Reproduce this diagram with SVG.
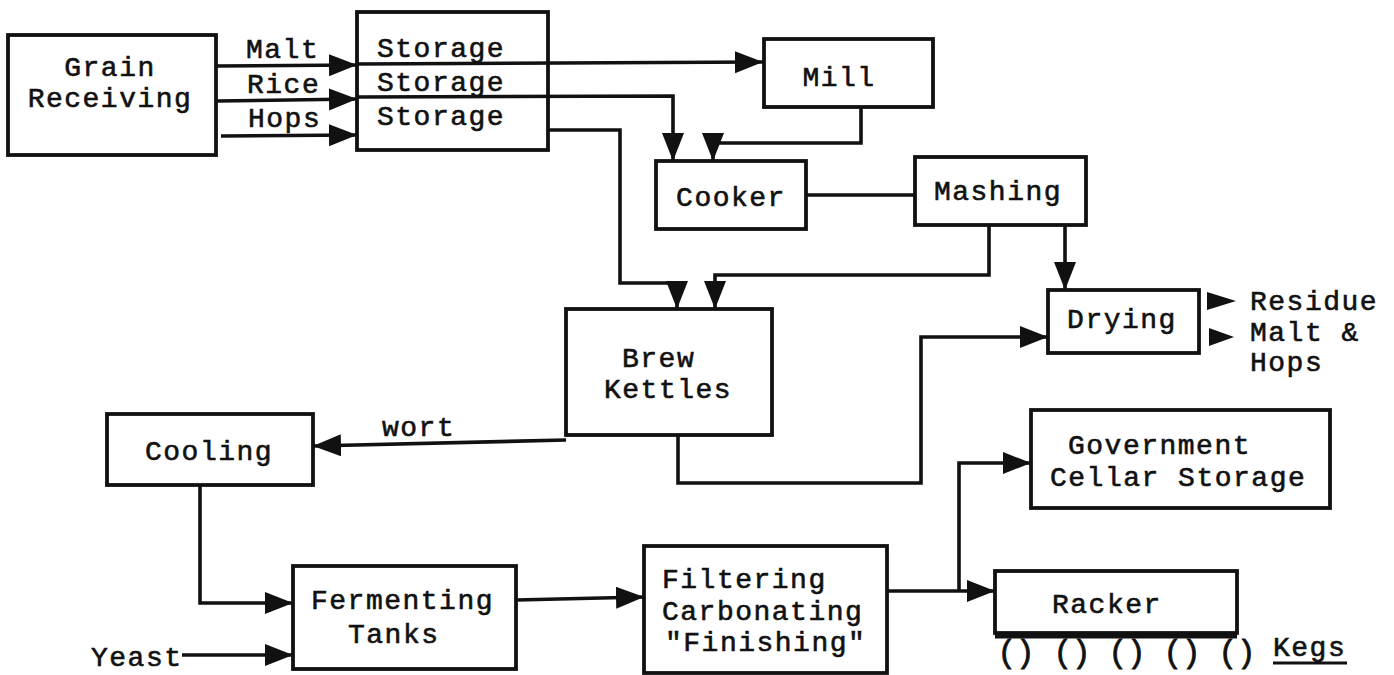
<svg xmlns="http://www.w3.org/2000/svg" width="1394" height="675" viewBox="0 0 1394 675">
<defs>
<style>
.box{fill:none;stroke:#111;stroke-width:3.8}
.ln{fill:none;stroke:#111;stroke-width:3.6;stroke-linejoin:miter}
.t{font-family:"Liberation Mono","DejaVu Sans Mono",monospace;font-size:28px;letter-spacing:1.5px;fill:#111;stroke:#111;stroke-width:0.6}
.m{text-anchor:middle}
.p{font-family:"Liberation Mono","DejaVu Sans Mono",monospace;font-size:31px;fill:#111;stroke:#111;stroke-width:0.8;text-anchor:middle}
</style>
<marker id="ah" markerUnits="userSpaceOnUse" markerWidth="30" markerHeight="24" refX="28" refY="11" orient="auto">
<path d="M0,0 L28,11 L0,22 Z" fill="#111"/>
</marker>
</defs>
<rect width="1394" height="675" fill="#fff"/>

<g id="connectors">
<path class="ln" d="M216,66 L357,65" marker-end="url(#ah)"/>
<path class="ln" d="M357,64 L763,62" marker-end="url(#ah)"/>
<path class="ln" d="M216,101 L357,99" marker-end="url(#ah)"/>
<path class="ln" d="M357,97 L673,96 L673,161" marker-end="url(#ah)"/>
<path class="ln" d="M221,136 L357,135" marker-end="url(#ah)"/>
<path class="ln" d="M548,130 L620,130 L620,283 L677,283 L677,309" marker-end="url(#ah)"/>
<path class="ln" d="M861,107 L861,143 L713,143 L713,161" marker-end="url(#ah)"/>
<path class="ln" d="M806,195 L915,195"/>
<path class="ln" d="M989,225 L989,275 L715,275 L715,309" marker-end="url(#ah)"/>
<path class="ln" d="M1065,225 L1065,290" marker-end="url(#ah)"/>
<path class="ln" d="M678,435 L678,483 L921,483 L921,337 L1048,337" marker-end="url(#ah)"/>
<path class="ln" d="M566,440 L313,446" marker-end="url(#ah)"/>
<path class="ln" d="M200,485 L200,603 L293,603" marker-end="url(#ah)"/>
<path class="ln" d="M182,655 L293,655" marker-end="url(#ah)"/>
<path class="ln" d="M516,600 L644,597" marker-end="url(#ah)"/>
<path class="ln" d="M887,591 L995,591" marker-end="url(#ah)"/>
<path class="ln" d="M959,591 L959,463 L1031,463" marker-end="url(#ah)"/>
<polygon points="1207,292 1236,301 1207,310" fill="#111"/>
<polygon points="1209,328 1234,337 1209,346" fill="#111"/>
</g>

<g id="labels">
<text class="t" x="246" y="58">Malt</text>
<text class="t" x="247" y="93">Rice</text>
<text class="t" x="248" y="127">Hops</text>
<text class="t" x="382" y="436">wort</text>
<text class="t" x="91" y="666">Yeast</text>
</g>

<g id="grain">
<rect class="box" x="8" y="35" width="208" height="120"/>
<text class="t m" x="110" y="76">Grain</text>
<text class="t m" x="110" y="107">Receiving</text>
</g>

<g id="storage">
<rect class="box" x="357" y="12" width="191" height="138"/>
<text class="t" x="377" y="57">Storage</text>
<text class="t" x="377" y="91">Storage</text>
<text class="t" x="377" y="125">Storage</text>
</g>

<g id="mill">
<rect class="box" x="764" y="39" width="169" height="68"/>
<text class="t m" x="839" y="86">Mill</text>
</g>

<g id="cooker">
<rect class="box" x="656" y="161" width="150" height="68"/>
<text class="t m" x="731" y="206">Cooker</text>
</g>

<g id="mashing">
<rect class="box" x="915" y="157" width="171" height="68"/>
<text class="t m" x="998" y="200">Mashing</text>
</g>

<g id="drying">
<rect class="box" x="1048" y="290" width="151" height="63"/>
<text class="t m" x="1122" y="328">Drying</text>
</g>

<g id="residue">
<text class="t" x="1250" y="310">Residue</text>
<text class="t" x="1250" y="341">Malt &amp;</text>
<text class="t" x="1250" y="371">Hops</text>
</g>

<g id="brew">
<rect class="box" x="566" y="309" width="206" height="126"/>
<text class="t" x="622" y="367">Brew</text>
<text class="t" x="604" y="398">Kettles</text>
</g>

<g id="cooling">
<rect class="box" x="107" y="414" width="206" height="71"/>
<text class="t" x="145" y="460">Cooling</text>
</g>

<g id="fermenting">
<rect class="box" x="293" y="566" width="223" height="103"/>
<text class="t" x="311" y="609">Fermenting</text>
<text class="t" x="348" y="643">Tanks</text>
</g>

<g id="filtering">
<rect class="box" x="644" y="546" width="243" height="127"/>
<text class="t" x="662" y="588">Filtering</text>
<text class="t" x="662" y="620">Carbonating</text>
<text class="t" x="665" y="651">"Finishing"</text>
</g>

<g id="government">
<rect class="box" x="1031" y="410" width="299" height="98"/>
<text class="t" x="1068" y="454">Government</text>
<text class="t" x="1050" y="486">Cellar Storage</text>
</g>

<g id="racker">
<rect class="box" x="995" y="571" width="242" height="62"/>
<line x1="995" y1="636" x2="1237" y2="636" stroke="#111" stroke-width="5"/>
<text class="t" x="1052" y="613">Racker</text>
</g>

<g id="kegs">
<text class="p" x="1016" y="662">()</text>
<text class="p" x="1072" y="662">()</text>
<text class="p" x="1127" y="662">()</text>
<text class="p" x="1182" y="662">()</text>
<text class="p" x="1237" y="662">()</text>
<text class="t" x="1273" y="656">Kegs</text>
<line x1="1273" y1="663" x2="1347" y2="663" stroke="#111" stroke-width="3"/>
</g>
</svg>
